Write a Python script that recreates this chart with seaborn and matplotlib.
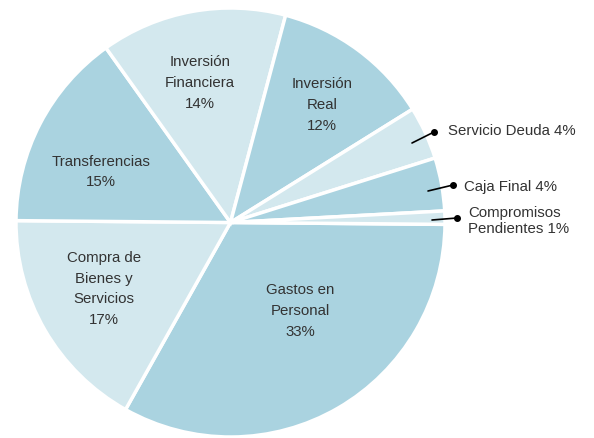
import matplotlib
matplotlib.use("Agg")
import matplotlib.pyplot as plt
import seaborn as sns

# data, clockwise from east
categories = ["Gastos en\nPersonal", "Compra de\nBienes y\nServicios", "Transferencias",
              "Inversión\nFinanciera", "Inversión\nReal", "Servicio Deuda",
              "Caja Final", "Compromisos\nPendientes"]
shares = [33, 17, 15, 14, 12, 4, 4, 1]

dark = "#aad3e0"
light = "#d3e8ee"
colors = [dark, light, dark, light, dark, light, dark, light]

sns.set_style("white")
plt.rcParams["font.family"] = ["Liberation Sans", "DejaVu Sans"]

W, H = 594, 438
cx, cy, R = 230.5, 222.5, 214.5


def to_data(px, py):
    return (px - cx) / R, (cy - py) / R


fig = plt.figure(figsize=(W / 100, H / 100), dpi=100)
ax = fig.add_axes([(cx - R) / W, (H - cy - R) / H, 2 * R / W, 2 * R / H])

wedges, _ = ax.pie(shares, colors=colors, startangle=-0.5, counterclock=False,
                   radius=1, wedgeprops=dict(edgecolor="white", linewidth=2.5))
ax.set_xlim(-1, 1)
ax.set_ylim(-1, 1)
ax.set_aspect("equal")
ax.axis("off")

# inside labels: pixel centres
inside_pos = [(300, 311), (104, 289), (101, 172), (200, 83), (322, 105)]
for i, (px, py) in enumerate(inside_pos):
    x, y = to_data(px, py)
    ax.text(x, y, f"{categories[i]}\n{shares[i]}%", ha="center", va="center",
            fontsize=10.8, color="#333333", linespacing=1.62)

# outside labels with leader lines
outside = [
    (5, (412, 143), (434, 132), (448, 131)),
    (6, (428, 191), (453, 185), (464, 187)),
    (7, (432, 220), (457, 218), (468, 221)),
]
for i, p0, p1, pt in outside:
    x0, y0 = to_data(*p0)
    x1, y1 = to_data(*p1)
    tx, ty = to_data(*pt)
    ax.plot([x0, x1], [y0, y1], color="black", lw=1.2, clip_on=False)
    ax.plot([x1], [y1], "o", color="black", ms=4, clip_on=False)
    label = categories[i].replace("\n", " ") if i != 7 else categories[i]
    ax.text(tx, ty, f"{label} {shares[i]}%", ha="left", va="center",
            fontsize=10.8, color="#333333", linespacing=1.15, clip_on=False)

fig.savefig("out.png", dpi=100)
